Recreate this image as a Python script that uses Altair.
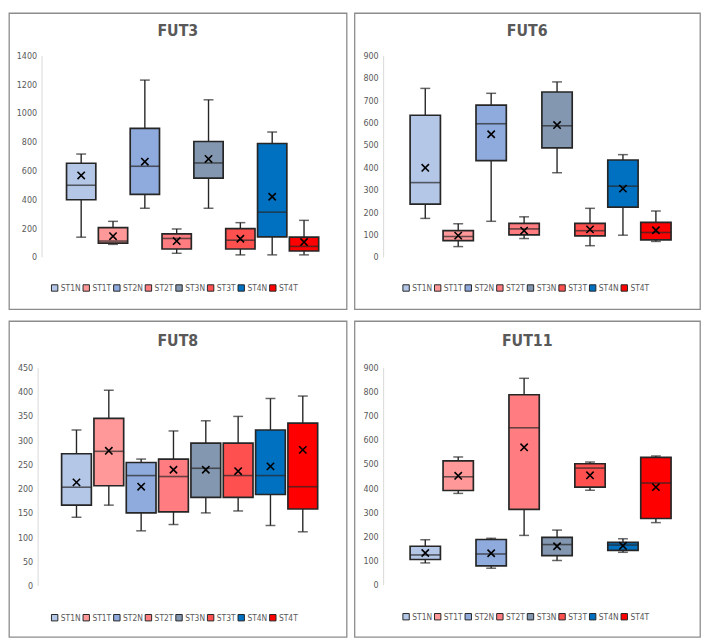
import altair as alt
import pandas as pd

CATS = ["ST1N", "ST1T", "ST2N", "ST2T", "ST3N", "ST3T", "ST4N", "ST4T"]
COLORS = ["#b4c7e7", "#ff9999", "#8faadc", "#ff7c80", "#8497b0", "#ff5050", "#0070c0", "#ff0000"]

# FUT3
FUT3_LO = [137, 87, 338, 25, 338, 14, 14, 14]
FUT3_Q1 = [397, 96, 434, 55, 548, 55, 139, 41]
FUT3_MED = [498, 110, 630, 128, 653, 116, 311, 73]
FUT3_Q3 = [651, 203, 893, 160, 802, 196, 788, 137]
FUT3_HI = [715, 247, 1229, 194, 1092, 238, 868, 254]
FUT3_MEAN = [566, 144, 662, 110, 681, 126, 418, 103]

# FUT6
FUT6_LO = [172, 46, 159, 82, 376, 50, 97, 69]
FUT6_Q1 = [236, 73, 430, 98, 487, 94, 222, 76]
FUT6_MED = [332, 91, 595, 125, 586, 117, 316, 109]
FUT6_Q3 = [633, 117, 678, 150, 737, 150, 433, 154]
FUT6_HI = [753, 148, 731, 179, 782, 217, 457, 205]
FUT6_MEAN = [398, 95, 548, 117, 589, 123, 305, 119]

# FUT8
FUT8_LO = [141, 166, 113, 126, 150, 154, 124, 111]
FUT8_Q1 = [166, 206, 150, 152, 182, 182, 188, 158]
FUT8_MED = [203, 277, 227, 225, 242, 227, 227, 204]
FUT8_Q3 = [272, 345, 254, 261, 294, 294, 321, 335]
FUT8_HI = [321, 403, 261, 319, 340, 349, 386, 391]
FUT8_MEAN = [213, 278, 204, 239, 239, 236, 246, 280]

# FUT11
FUT11_LO = [90, 378, 68, 204, 100, 391, 134, 257]
FUT11_Q1 = [104, 390, 78, 312, 120, 404, 142, 274]
FUT11_MED = [123, 447, 127, 650, 166, 483, 164, 421]
FUT11_Q3 = [159, 513, 187, 787, 196, 501, 175, 527]
FUT11_HI = [186, 529, 192, 855, 226, 508, 190, 533]
FUT11_MEAN = [131, 451, 130, 569, 159, 453, 161, 404]

DARK = "#262626"
GREY = "#595959"
FONT = "'Liberation Sans Narrow', 'DejaVu Sans Condensed', 'Liberation Sans', sans-serif"


def panel(title, lo, q1, med, q3, hi, mean, ticks, w, h, axis_x, yrange, xrange, leg_x, leg_y, box_w, title_dy):
    df = pd.DataFrame({"cat": CATS, "lo": lo, "q1": q1, "med": med,
                       "q3": q3, "hi": hi, "mean": mean})
    base = alt.Chart(df)
    xs = alt.Scale(domain=CATS, range=xrange, paddingInner=0.08, paddingOuter=0.04)
    x = alt.X("cat:N", sort=CATS, scale=xs, axis=None)
    ys = alt.Scale(domain=[0, ticks[-1]], range=yrange, nice=False, zero=True)
    ax = alt.Axis(values=ticks, format="d", offset=-axis_x, ticks=False, grid=False,
                  domainColor="#d9d9d9", domainWidth=1, labelColor=GREY,
                  labelFont=FONT, labelFontSize=9, labelPadding=5, title=None)

    def Y(f):
        return alt.Y(f, scale=ys, axis=ax)

    rule = base.mark_rule(color=DARK, strokeWidth=1.4).encode(x=x, y=Y("lo:Q"), y2="hi:Q")
    cap_lo = base.mark_tick(color=DARK, size=10, thickness=1.5).encode(x=x, y=Y("lo:Q"))
    cap_hi = base.mark_tick(color=DARK, size=10, thickness=1.5).encode(x=x, y=Y("hi:Q"))
    box = base.mark_bar(stroke=DARK, strokeWidth=1.7).encode(
        x=x, y=Y("q1:Q"), y2="q3:Q",
        color=alt.Color("cat:N", sort=CATS,
                        scale=alt.Scale(domain=CATS, range=COLORS),
                        legend=alt.Legend(orient="none", legendX=leg_x, legendY=leg_y,
                                          direction="horizontal", columns=8, title=None,
                                          symbolType="square", symbolSize=42,
                                          symbolStrokeColor=DARK, symbolStrokeWidth=1,
                                          labelFont=FONT, labelFontSize=8.5,
                                          labelColor=GREY, labelOffset=2,
                                          columnPadding=0)))
    median = base.mark_tick(color=DARK, size=box_w, thickness=1.6).encode(x=x, y=Y("med:Q"))
    mn = base.mark_point(shape="M-1,-1L1,1M-1,1L1,-1", size=55, stroke="black",
                         strokeWidth=1.6, filled=False, opacity=1).encode(x=x, y=Y("mean:Q"))
    return alt.layer(rule, cap_lo, cap_hi, box, median, mn).properties(
        width=w, height=h,
        title=alt.TitleParams(title, fontSize=16, font=FONT, fontWeight="bold",
                              color=GREY, anchor="middle", baseline="middle",
                              offset=0, dy=title_dy))


p1 = panel("FUT3", FUT3_LO, FUT3_Q1, FUT3_MED, FUT3_Q3, FUT3_HI, FUT3_MEAN,
           [0, 200, 400, 600, 800, 1000, 1200, 1400], 342, 300, 33, [247, 43], [57, 315], 42, 274, 29, 34)
p2 = panel("FUT6", FUT6_LO, FUT6_Q1, FUT6_MED, FUT6_Q3, FUT6_HI, FUT6_MEAN,
           [0, 100, 200, 300, 400, 500, 600, 700, 800, 900], 350, 300, 29, [247, 43], [55, 322], 48, 274, 31, 34)
p3 = panel("FUT8", FUT8_LO, FUT8_Q1, FUT8_MED, FUT8_Q3, FUT8_HI, FUT8_MEAN,
           [0, 50, 100, 150, 200, 250, 300, 350, 400, 450], 342, 320, 29, [268, 47], [52, 314], 42, 296, 30, 36)
p4 = panel("FUT11", FUT11_LO, FUT11_Q1, FUT11_MED, FUT11_Q3, FUT11_HI, FUT11_MEAN,
           [0, 100, 200, 300, 400, 500, 600, 700, 800, 900], 350, 320, 29, [267, 47], [55, 322], 48, 295, 31, 36)


def res(c):
    return c.resolve_scale(x="independent", y="independent", color="independent").resolve_legend(color="independent")


top = res(alt.hconcat(p1, p2, spacing=6))
bottom = res(alt.hconcat(p3, p4, spacing=6))
chart = res(alt.vconcat(top, bottom, spacing=10)).properties(
    padding=0, background="white"
).configure_view(stroke="#8c8c8c", strokeWidth=1.3)

chart.save("out.html", embed_options={"renderer": "svg", "actions": False})
